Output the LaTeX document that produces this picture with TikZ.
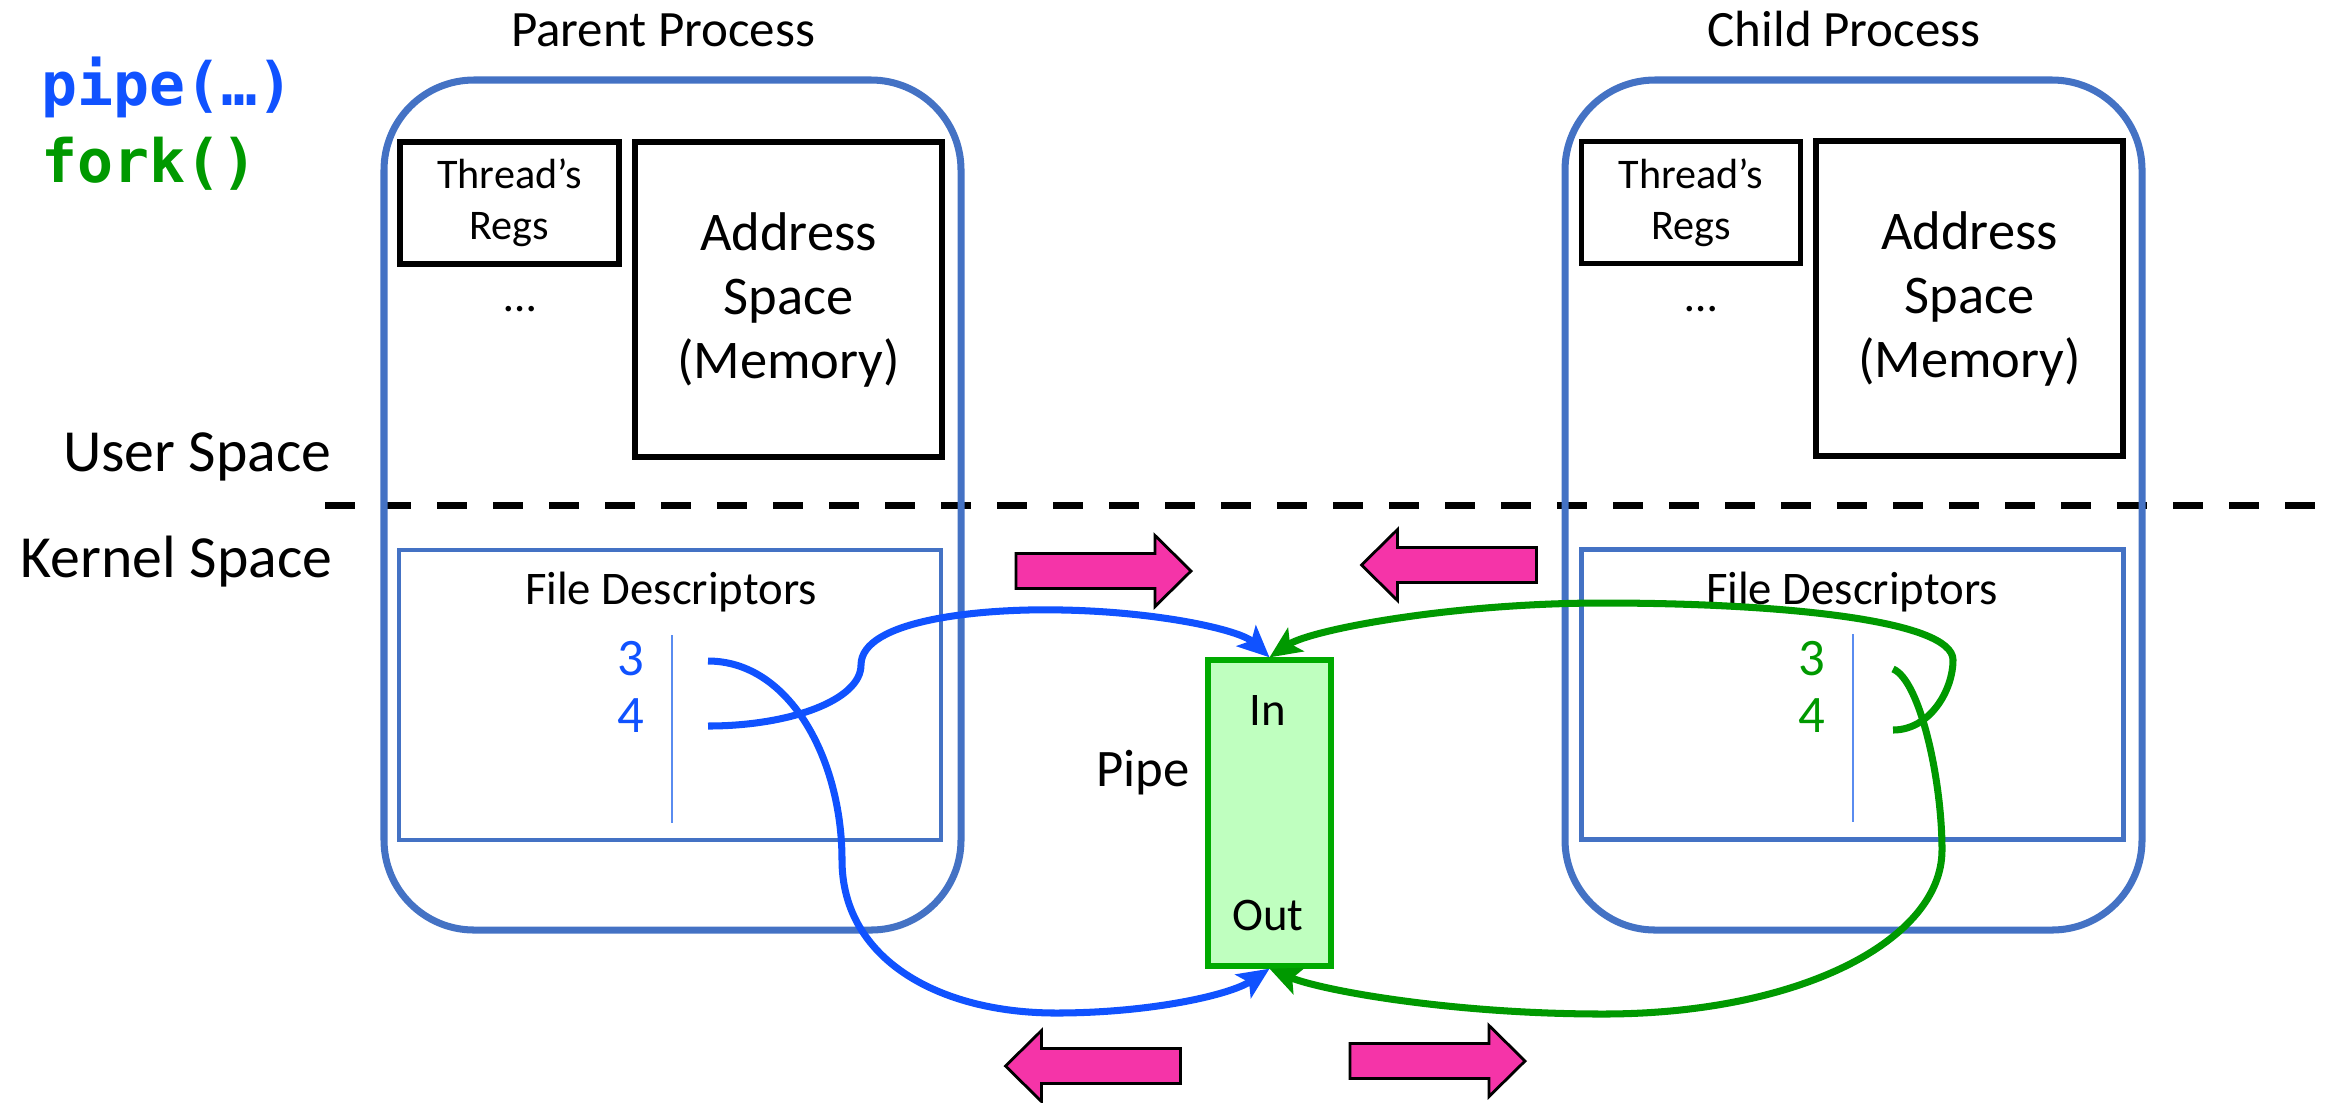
\documentclass[tikz,border=0pt]{standalone}
\usepackage{fontspec}
\setmainfont{Carlito}
\setmonofont{DejaVu Sans Mono}
\usepackage{xcolor}
\usepackage{tikz}
\usetikzlibrary{arrows.meta,calc,positioning}

\definecolor{procblue}{RGB}{68,114,196}
\definecolor{fdrule}{RGB}{90,140,240}
\definecolor{callblue}{RGB}{16,82,255}
\definecolor{callgreen}{RGB}{0,153,0}
\definecolor{pipefill}{RGB}{191,255,191}
\definecolor{pipeedge}{RGB}{0,170,0}
\definecolor{flowpink}{RGB}{245,52,168}

\begin{document}
\begin{tikzpicture}[
    procbox/.style={draw=procblue, line width=2pt, rounded corners=0.9cm,
        minimum width=5.77cm, minimum height=8.5cm},
    membox/.style={draw, line width=1.5pt, align=center, inner sep=0},
    regsbox/.style={membox, minimum width=2.19cm, minimum height=1.22cm,
        font=\fontsize{12}{14.5}\selectfont},
    addrbox/.style={membox, minimum width=3.07cm, minimum height=3.15cm,
        font=\fontsize{15.5}{18.2}\selectfont},
    fdbox/.style={draw=procblue, line width=1.4pt, minimum width=5.42cm, minimum height=2.9cm},
    proctitle/.style={anchor=base, font=\fontsize{14.5}{17}\selectfont},
    spacelbl/.style={anchor=base east, inner xsep=0, font=\fontsize{17}{20}\selectfont},
    fdtitle/.style={anchor=base, font=\fontsize{13.3}{16}\selectfont},
    fdnum/.style={anchor=base, font=\fontsize{15}{18}\selectfont},
    pipebox/.style={draw=pipeedge, fill=pipefill, line width=1.5pt,
        minimum width=1.23cm, minimum height=3.06cm},
    endlbl/.style={anchor=base, font=\fontsize{13.3}{16}\selectfont},
    syscall/.style={anchor=base west, inner xsep=0, font=\ttfamily\bfseries\fontsize{17}{20}\selectfont},
    boundary/.style={line width=2pt, dash pattern=on 0.3cm off 0.26cm},
    pipeflow/.style={line width=2pt, -{Stealth[length=9pt,width=8pt,inset=2pt]}},
    pics/fatarrow/.style={code={
        \draw[line width=0.8pt, fill=flowpink] (-0.875,-0.175) -- (0.515,-0.175) -- (0.515,-0.355)
            -- (0.875,0) -- (0.515,0.355) -- (0.515,0.175) -- (-0.875,0.175) -- cycle;}}
]
\useasboundingbox (0,0) rectangle (23.33,-11.02);

\node[syscall, text=callblue] (pipecall) at (0.41,-1.05) {pipe(…)};
\node[syscall, text=callgreen] (forkcall) at (0.41,-1.82) {fork()};

\node[spacelbl] (userlbl) at (3.32,-4.71) {User Space};
\node[spacelbl] (kernellbl) at (3.33,-5.77) {Kernel Space};
\draw[boundary] (3.25,-5.05) -- (23.33,-5.05);

% parent
\node[procbox] (parent) at (6.725,-5.05) {};
\node[proctitle] (parentlbl) at (6.63,-0.46) {Parent Process};
\node[regsbox] (pregs) at (5.095,-2.03) {Thread’s\\Regs};
\node[font=\fontsize{13}{15}\selectfont] (pdots) at (5.2,-3.09) {\dots};
\node[addrbox] (paddr) at (7.885,-2.995) {Address\\Space\\(Memory)};
\node[fdbox] (pfd) at (6.70,-6.95) {};
\node[fdtitle] (pfdlbl) at (6.71,-6.04) {File Descriptors};
\draw[fdrule, line width=0.8pt] (6.72,-6.35) -- (6.72,-8.23);
\node[fdnum, text=callblue] (pthree) at (6.31,-6.75) {3};
\node[fdnum, text=callblue] (pfour) at (6.31,-7.32) {4};
\coordinate (pout3) at (7.08,-6.61);
\coordinate (pout4) at (7.08,-7.26);

% child
\node[procbox] (child) at (18.535,-5.05) {};
\node[proctitle] (childlbl) at (18.44,-0.46) {Child Process};
\node[regsbox] (cregs) at (16.91,-2.025) {Thread’s\\Regs};
\node[font=\fontsize{13}{15}\selectfont] (cdots) at (17.01,-3.09) {\dots};
\node[addrbox] (caddr) at (19.695,-2.985) {Address\\Space\\(Memory)};
\node[fdbox] (cfd) at (18.525,-6.945) {};
\node[fdtitle] (cfdlbl) at (18.52,-6.04) {File Descriptors};
\draw[fdrule, line width=0.8pt] (18.53,-6.34) -- (18.53,-8.22);
\node[fdnum, text=callgreen] (cthree) at (18.12,-6.75) {3};
\node[fdnum, text=callgreen] (cfour) at (18.12,-7.32) {4};
\coordinate (cout3) at (18.93,-6.69);
\coordinate (cout4) at (18.93,-7.30);

% pipe
\node[pipebox] (pipe) at (12.695,-8.13) {};
\node[endlbl] (pipein) at (12.68,-7.25) {In};
\node[endlbl] (pipeout) at (12.68,-9.30) {Out};
\node[anchor=base east, inner xsep=0, font=\fontsize{15}{18}\selectfont] (pipelbl) at (11.90,-7.86) {Pipe};

\draw[pipeflow, callblue] (pout4) .. controls (7.90,-7.26) and (8.61,-7.00) .. (8.61,-6.65)
    .. controls (8.61,-6.20) and (9.80,-6.08) .. (10.63,-6.10)
    .. controls (11.60,-6.12) and (12.40,-6.30) .. (pipe.north);
\draw[pipeflow, callblue] (pout3) .. controls (7.90,-6.61) and (8.42,-7.60) .. (8.42,-8.60)
    .. controls (8.42,-9.60) and (9.40,-10.13) .. (10.56,-10.13)
    .. controls (11.50,-10.13) and (12.30,-9.95) .. (pipe.south);
\draw[pipeflow, callgreen] (cout4) .. controls (19.30,-7.30) and (19.53,-6.90) .. (19.53,-6.60)
    .. controls (19.53,-6.20) and (17.80,-6.03) .. (16.03,-6.03)
    .. controls (14.50,-6.03) and (13.10,-6.30) .. (pipe.north);
\draw[pipeflow, callgreen] (cout3) .. controls (19.20,-6.80) and (19.42,-7.80) .. (19.42,-8.50)
    .. controls (19.42,-9.40) and (18.00,-10.14) .. (16.03,-10.14)
    .. controls (14.50,-10.14) and (13.20,-9.90) .. (pipe.south);

\pic (flowtl) at (11.035,-5.71) {fatarrow};
\pic[rotate=180] (flowtr) at (14.49,-5.65) {fatarrow};
\pic[rotate=180] (flowbl) at (10.93,-10.66) {fatarrow};
\pic (flowbr) at (14.375,-10.61) {fatarrow};

\end{tikzpicture}
\end{document}
